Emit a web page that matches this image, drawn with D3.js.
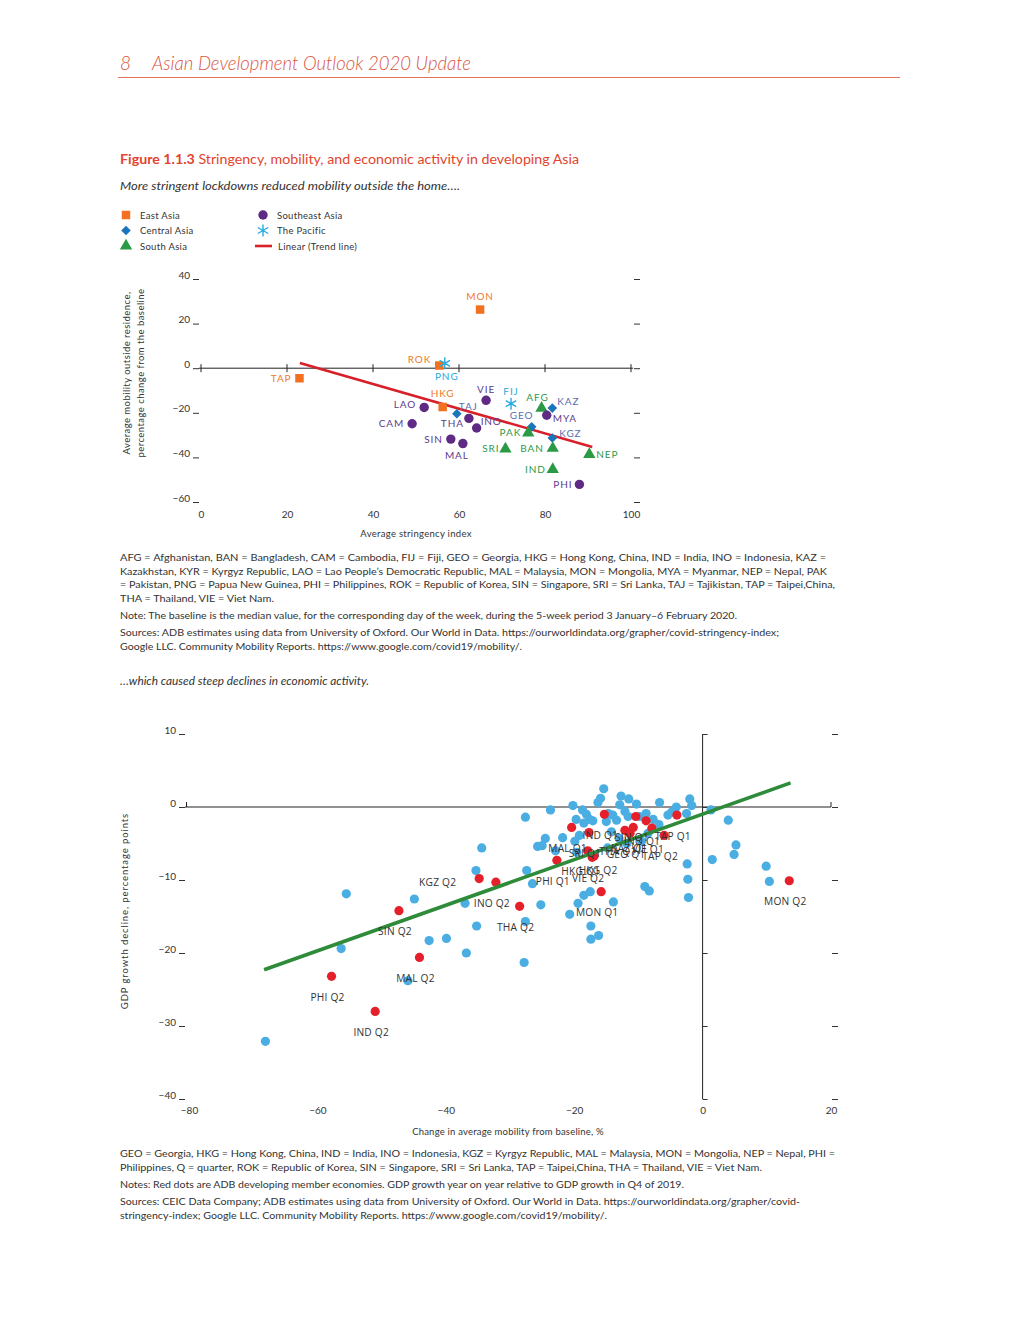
<!DOCTYPE html>
<html>
<head>
<meta charset="utf-8">
<script src="https://cdn.jsdelivr.net/npm/d3@7"></script>
<style>
  body { margin: 0; background: #fff; }
  svg { display: block; font-family: Lato, "Open Sans", sans-serif; }
  .tick text { font-family: Lato, sans-serif; font-size: 10px; fill: #333; }
  .tick line { stroke: #333; }
</style>
</head>
<body>
<script>
// ---- top chart: stringency vs mobility ----
var topCodes = ["MON", "ROK", "TAP", "HKG", "TAJ", "KAZ", "GEO", "KGZ", "AFG", "PAK", "SRI", "BAN", "NEP", "IND",
  "LAO", "CAM", "THA", "INO", "VIE", "SIN", "MAL", "MYA", "PHI", "PNG", "FIJ"];
var topRegion = ["East Asia", "East Asia", "East Asia", "East Asia",
  "Central Asia", "Central Asia", "Central Asia", "Central Asia",
  "South Asia", "South Asia", "South Asia", "South Asia", "South Asia", "South Asia",
  "Southeast Asia", "Southeast Asia", "Southeast Asia", "Southeast Asia", "Southeast Asia",
  "Southeast Asia", "Southeast Asia", "Southeast Asia", "Southeast Asia",
  "The Pacific", "The Pacific"];
var topStringency = [64.9, 55.4, 22.9, 56.2, 59.5, 81.7, 76.9, 81.7, 79.2, 76.1, 70.8, 81.8, 90.3, 81.8,
  51.9, 49.1, 62.3, 64.1, 66.3, 58.1, 60.9, 80.4, 88.0, 56.7, 72.1];
var topMobility = [26.3, 1.2, -4.5, -17.4, -20.4, -17.9, -26.3, -31.3, -17.9, -29.0, -36.2, -35.9, -38.7, -45.4,
  -17.6, -24.9, -22.5, -26.8, -14.4, -31.8, -33.8, -21.1, -52.1, 2.2, -15.9];
var topTrendX = [23, 91];
var topTrendY = [2.3, -35.3];
var topXTicks = [0, 20, 40, 60, 80, 100];
var topYTicks = [40, 20, 0, -20, -40, -60];

// ---- bottom chart: mobility vs GDP growth decline ----
var blueMob = [-68.1, -56.3, -55.5, -44.9, -45.9, -42.6, -39.9, -36.8, -37.0, -35.2, -35.3, -34.4, -27.8, -27.6,
  -27.4, -27.6, -26.5, -25.2, -25.7, -25.0, -24.5, -23.7, -21.8, -22.9, -20.7, -19.4, -18.5, -17.5, -17.4, -17.4,
  -16.2, -13.9, -9.0, -8.3, -2.4, -2.3, -2.2, 1.5, 4.0, 4.9, 5.2, 9.9, 10.4, 1.3, -2.0, -1.7,
  -15.4, -15.9, -16.3, -12.7, -11.5, -12.9, -10.3, -6.7, -4.1, -20.2, -18.7, -18.1, -17.6, -19.7, -17.1, -14.7,
  -14.0, -13.4, -12.1, -11.6, -9.8, -8.8, -7.7, -5.4, -2.5, -15.0, -4.8, -19.2, -18.5, -14.2, -13.0, -9.5, -8.5,
  -6.8, -11.8, -14.8, -19.9, -19.6];
var blueGdp = [-32.1, -19.4, -11.9, -12.6, -23.8, -18.3, -18.0, -20.0, -13.2, -16.3, -8.7, -5.6, -21.3, -15.7,
  -8.7, -1.4, -10.5, -13.4, -5.4, -5.3, -4.3, -0.4, -4.2, -6.0, -14.7, -13.2, -12.1, -11.6, -16.3, -18.1,
  -17.6, -13.0, -10.9, -11.5, -7.8, -9.9, -12.4, -7.2, -1.8, -6.5, -5.2, -8.1, -10.2, -0.4, 1.1, 0.2,
  2.5, 1.2, 0.6, 1.5, 1.1, 0.3, 0.4, 0.6, 0.0, 0.2, -0.4, -1.0, -1.7, -1.7, -1.9, -0.9,
  -1.1, -1.8, -0.6, -1.3, -1.3, -0.9, -1.7, -1.1, -0.9, -2.0, -0.7, -3.9, -2.2, -3.4, -4.3, -4.7, -3.6,
  -2.4, -5.0, -5.6, -4.7, -6.2];
var redLabel = ["IND Q1", "SIN Q1", "TAP Q1", "INO Q1", "MAL Q1", "SRI Q1", "THA Q1", "KAZ Q1", "VIE Q1", "GEO Q1",
  "TAP Q2", "HKG Q1", "HKG Q2", "VIE Q2", "PHI Q1", "MON Q1", "THA Q2", "INO Q2", "KGZ Q2", "SIN Q2", "MAL Q2",
  "PHI Q2", "IND Q2", "MON Q2"];
var redMob = [-15.3, -10.4, -4.0, -8.8, -20.4, -17.7, -12.1, -10.8, -7.9, -11.3, -6.0, -17.9, -16.9, -17.2,
  -22.7, -15.8, -28.5, -32.2, -34.8, -47.3, -44.1, -57.8, -51.0, 13.5];
var redGdp = [-1.0, -1.3, -1.1, -1.9, -2.8, -3.5, -3.2, -2.8, -2.9, -3.6, -3.9, -6.0, -6.7, -6.9,
  -7.3, -11.6, -13.6, -10.3, -9.8, -14.2, -20.6, -23.2, -28.0, -10.1];
var botTrendX = [-68.3, 13.7];
var botTrendY = [-22.3, 3.3];
var botXTicks = [-80, -60, -40, -20, 0, 20];
var botYTicks = [10, 0, -10, -20, -30, -40];

// ---- styles ----
var regionColor = {"East Asia": "#f37021", "Central Asia": "#1a75bb", "South Asia": "#2a9a47",
  "Southeast Asia": "#5e2a84", "The Pacific": "#27aae1"};
var labelColor = {"East Asia": "#f07a2a", "Central Asia": "#5a6eb0", "South Asia": "#2e9a48",
  "Southeast Asia": "#5c3a8c", "The Pacific": "#2aa8e0"};
// [anchor, dx, dy(baseline)] for top labels
var topLabelPos = {
  MON: ["middle", 0, -9.5], ROK: ["end", -8, -2.5], PNG: ["middle", 2, 16.5], TAP: ["end", -8, 3.5],
  HKG: ["middle", 0, -10.5], TAJ: ["start", 2, -3.5], LAO: ["end", -8, 0.5], CAM: ["end", -8, 3.5],
  THA: ["end", -5, 8.5], INO: ["start", 4, -2.5], VIE: ["middle", 0, -7.5], SIN: ["end", -8, 3.5],
  MAL: ["middle", -6, 15], FIJ: ["middle", 0, -8.5], AFG: ["middle", -4, -7.5], KAZ: ["start", 5, -3.5],
  MYA: ["start", 6, 6.5], GEO: ["middle", -10, -7.5], PAK: ["end", -7, 3.5], KGZ: ["start", 7, -0.5],
  SRI: ["end", -6, 3.5], BAN: ["end", -9, 3.5], NEP: ["start", 7, 3.5], IND: ["end", -7, 3.5], PHI: ["end", -7, 3.5]
};
var botLabelPos = {"KGZ Q2": ["end", -23, 7], "HKG Q2": ["middle", 4, 18], "HKG Q1": ["middle", -7, 24],
  "THA Q1": ["middle", -7, 25]};

var svg = d3.select("body").append("svg").attr("width", 1020).attr("height", 1320);
svg.append("rect").attr("width", 1020).attr("height", 1320).attr("fill", "#fff");

// header
svg.append("text").attr("x", 120).attr("y", 70).attr("font-size", 19).attr("font-style", "italic")
  .attr("font-weight", 300).attr("fill", "#d8553f").text("8");
svg.append("text").attr("x", 152).attr("y", 70).attr("font-size", 19).attr("font-style", "italic")
  .attr("font-weight", 300).attr("fill", "#d8553f").attr("textLength", 319).attr("lengthAdjust", "spacingAndGlyphs")
  .text("Asian Development Outlook 2020 Update");
svg.append("line").attr("x1", 118).attr("x2", 900).attr("y1", 77.5).attr("y2", 77.5)
  .attr("stroke", "#e0745c").attr("stroke-width", 1);

var title = svg.append("text").attr("x", 120).attr("y", 164).attr("font-size", 13.5).attr("fill", "#e2442e")
  .attr("textLength", 459).attr("lengthAdjust", "spacingAndGlyphs");
title.append("tspan").attr("font-weight", 700).text("Figure 1.1.3");
title.append("tspan").text("  Stringency, mobility, and economic activity in developing Asia");

svg.append("text").attr("x", 120).attr("y", 190).attr("font-size", 11).attr("font-style", "italic")
  .attr("fill", "#333").attr("textLength", 340).attr("lengthAdjust", "spacingAndGlyphs")
  .text("More stringent lockdowns reduced mobility outside the home….");

// marker drawing
function asterisk(r) {
  var a = r * 0.87, b = r * 0.5;
  return "M0," + (-r) + "L0," + r + "M" + (-a) + "," + (-b) + "L" + a + "," + b + "M" + (-a) + "," + b + "L" + a + "," + (-b);
}
function drawMarker(g, region, x, y) {
  var c = regionColor[region];
  if (region === "East Asia") {
    g.append("path").attr("d", d3.symbol(d3.symbolSquare, 72)()).attr("transform", "translate(" + x + "," + y + ")").attr("fill", c);
  } else if (region === "Central Asia") {
    g.append("path").attr("d", d3.symbol(d3.symbolSquare, 46)())
      .attr("transform", "translate(" + x + "," + y + ") rotate(45)").attr("fill", c);
  } else if (region === "South Asia") {
    g.append("path").attr("d", d3.symbol(d3.symbolTriangle, 66)()).attr("transform", "translate(" + x + "," + y + ")").attr("fill", c);
  } else if (region === "Southeast Asia") {
    g.append("circle").attr("cx", x).attr("cy", y).attr("r", 4.7).attr("fill", c);
  } else {
    g.append("path").attr("d", asterisk(6)).attr("transform", "translate(" + x + "," + y + ")")
      .attr("stroke", c).attr("stroke-width", 1.4).attr("fill", "none");
  }
}

// legend
var legend = svg.append("g").attr("font-size", 9.5).attr("fill", "#333");
var legendItems = [["East Asia", 126, 215], ["Central Asia", 126, 230.5], ["South Asia", 126, 246],
  ["Southeast Asia", 263, 215], ["The Pacific", 263, 230.5]];
legendItems.forEach(function (d) {
  drawMarker(legend, d[0], d[1], d[2]);
  legend.append("text").attr("x", d[1] + 14).attr("y", d[2] + 3.5).attr("letter-spacing", 0.3).text(d[0]);
});
legend.append("line").attr("x1", 255).attr("x2", 272).attr("y1", 246).attr("y2", 246)
  .attr("stroke", "#d7202a").attr("stroke-width", 2.6);
legend.append("text").attr("x", 278).attr("y", 249.5).attr("letter-spacing", 0.3).text("Linear (Trend line)");

// ---------------- top chart ----------------
var tx = d3.scaleLinear().domain([0, 100]).range([201, 631]);
var ty = d3.scaleLinear().domain([-60, 40]).range([502, 279]);
var topG = svg.append("g");

var tLeft = topG.append("g").attr("transform", "translate(199,0)")
  .call(d3.axisLeft(ty).tickValues(topYTicks).tickSize(6).tickPadding(3));
tLeft.select(".domain").remove();
tLeft.selectAll("text").attr("dy", "-0.1em");
var tRight = topG.append("g").attr("transform", "translate(634,0)")
  .call(d3.axisRight(ty).tickValues(topYTicks).tickSize(6).tickFormat(""));
tRight.select(".domain").remove();
var tBottom = topG.append("g").attr("transform", "translate(0,503)")
  .call(d3.axisBottom(tx).tickValues(topXTicks).tickSize(0).tickPadding(8));
tBottom.select(".domain").remove();

// zero line with crossing ticks
topG.append("line").attr("x1", tx(0) - 2).attr("x2", tx(100) + 2).attr("y1", ty(0)).attr("y2", ty(0))
  .attr("stroke", "#222").attr("stroke-width", 1);
topG.selectAll(".zt").data(topXTicks).enter().append("line")
  .attr("x1", function (d) { return tx(d); }).attr("x2", function (d) { return tx(d); })
  .attr("y1", ty(0) - 4).attr("y2", ty(0) + 4).attr("stroke", "#222");

topG.append("text").attr("x", 416).attr("y", 537).attr("text-anchor", "middle").attr("font-size", 9.5)
  .attr("fill", "#333").attr("letter-spacing", 0.3).text("Average stringency index");
topG.append("text").attr("transform", "translate(130,373) rotate(-90)").attr("text-anchor", "middle")
  .attr("font-size", 9.5).attr("fill", "#333").attr("letter-spacing", 0.45).text("Average mobility outside residence,");
topG.append("text").attr("transform", "translate(144,373) rotate(-90)").attr("text-anchor", "middle")
  .attr("font-size", 9.5).attr("fill", "#333").attr("letter-spacing", 0.45).text("percentage change from the baseline");

// trend line
topG.append("line").attr("x1", tx(topTrendX[0])).attr("y1", ty(topTrendY[0]))
  .attr("x2", tx(topTrendX[1])).attr("y2", ty(topTrendY[1]))
  .attr("stroke", "#d7202a").attr("stroke-width", 2.6);

// points and labels
topCodes.forEach(function (code, i) {
  drawMarker(topG, topRegion[i], tx(topStringency[i]), ty(topMobility[i]));
});
topCodes.forEach(function (code, i) {
  var x = tx(topStringency[i]), y = ty(topMobility[i]);
  var p = topLabelPos[code];
  topG.append("text").attr("x", x + p[1]).attr("y", y + p[2]).attr("text-anchor", p[0])
    .attr("font-size", 10).attr("letter-spacing", 0.9).attr("fill", labelColor[topRegion[i]]).text(code);
});

// footnotes top
var noteStyle = function (sel) { return sel.attr("font-size", 9.6).attr("fill", "#333").attr("lengthAdjust", "spacingAndGlyphs"); };
var notesTop = [
  ["AFG = Afghanistan, BAN = Bangladesh, CAM = Cambodia, FIJ = Fiji, GEO = Georgia, HKG = Hong Kong, China, IND = India, INO = Indonesia, KAZ =", 561, 706],
  ["Kazakhstan, KYR = Kyrgyz Republic, LAO = Lao People’s Democratic Republic, MAL = Malaysia, MON = Mongolia, MYA = Myanmar, NEP = Nepal, PAK", 575, 707],
  ["= Pakistan, PNG = Papua New Guinea, PHI = Philippines, ROK = Republic of Korea, SIN = Singapore, SRI = Sri Lanka, TAJ = Tajikistan, TAP = Taipei,China,", 588, 715],
  ["THA = Thailand, VIE = Viet Nam.", 602, 154],
  ["Note: The baseline is the median value, for the corresponding day of the week, during the 5-week period 3 January–6 February 2020.", 619, 617],
  ["Sources: ADB estimates using data from University of Oxford. Our World in Data. https://ourworldindata.org/grapher/covid-stringency-index;", 636, 659],
  ["Google LLC. Community Mobility Reports. https://www.google.com/covid19/mobility/.", 650, 402]
];
notesTop.forEach(function (n) {
  noteStyle(svg.append("text").attr("x", 120).attr("y", n[1]).attr("textLength", n[2])).text(n[0]);
});
svg.append("text").attr("x", 120).attr("y", 685).attr("font-size", 10.5).attr("font-style", "italic")
  .attr("fill", "#333").attr("textLength", 249).attr("lengthAdjust", "spacingAndGlyphs")
  .text("…which caused steep declines in economic activity.");

// ---------------- bottom chart ----------------
var bx = d3.scaleLinear().domain([-80, 20]).range([189, 831]);
var by = d3.scaleLinear().domain([-40, 10]).range([1099, 734]);
var bot = svg.append("g");

var bLeft = bot.append("g").attr("transform", "translate(185,0)")
  .call(d3.axisLeft(by).tickValues(botYTicks).tickSize(6).tickPadding(3));
bLeft.select(".domain").remove();
bLeft.selectAll("text").attr("dy", "-0.1em");
var bRight = bot.append("g").attr("transform", "translate(832,0)")
  .call(d3.axisRight(by).tickValues(botYTicks).tickSize(6).tickFormat(""));
bRight.select(".domain").remove();
var bBottom = bot.append("g").attr("transform", "translate(0,1101)")
  .call(d3.axisBottom(bx).tickValues(botXTicks).tickSize(0).tickPadding(6));
bBottom.select(".domain").remove();

// x axis on zero, y axis on zero
bot.append("line").attr("x1", 185).attr("x2", bx(20)).attr("y1", by(0)).attr("y2", by(0))
  .attr("stroke", "#222");
bot.append("line").attr("x1", 186.5).attr("x2", 186.5).attr("y1", by(0) - 5).attr("y2", by(0)).attr("stroke", "#222");
bot.append("line").attr("x1", bx(20)).attr("x2", bx(20)).attr("y1", by(0) - 5).attr("y2", by(0)).attr("stroke", "#222");
var bMid = bot.append("g").attr("transform", "translate(" + bx(0) + ",0)")
  .call(d3.axisRight(by).tickValues(botYTicks).tickSize(5).tickFormat(""));
bMid.select(".domain").attr("stroke", "#222").attr("d", "M0," + by(10) + "V" + by(-40));

bot.append("text").attr("x", 508).attr("y", 1135).attr("text-anchor", "middle").attr("font-size", 9.5)
  .attr("fill", "#333").attr("letter-spacing", 0.2).text("Change in average mobility from baseline, %");
bot.append("text").attr("transform", "translate(128,911) rotate(-90)").attr("text-anchor", "middle")
  .attr("font-size", 9.5).attr("fill", "#333").attr("letter-spacing", 0.9).text("GDP growth decline, percentage points");

// points
bot.selectAll(".blue").data(d3.range(blueMob.length)).enter().append("circle")
  .attr("cx", function (i) { return bx(blueMob[i]); })
  .attr("cy", function (i) { return by(blueGdp[i]); })
  .attr("r", 4.6).attr("fill", "#4aaee3");
bot.selectAll(".red").data(d3.range(redMob.length)).enter().append("circle")
  .attr("cx", function (i) { return bx(redMob[i]); })
  .attr("cy", function (i) { return by(redGdp[i]); })
  .attr("r", 4.6).attr("fill", "#e5202a");

// trend line
bot.append("line").attr("x1", bx(botTrendX[0])).attr("y1", by(botTrendY[0]))
  .attr("x2", bx(botTrendX[1])).attr("y2", by(botTrendY[1]))
  .attr("stroke", "#2e8b3a").attr("stroke-width", 3.6);

// labels
redLabel.forEach(function (lab, i) {
  var p = botLabelPos[lab] || ["middle", -4, 24.5];
  bot.append("text").attr("x", bx(redMob[i]) + p[1]).attr("y", by(redGdp[i]) + p[2])
    .attr("text-anchor", p[0]).attr("font-size", 10.2).attr("letter-spacing", 0.2)
    .attr("font-family", "'Open Sans', sans-serif").attr("fill", "#333").text(lab);
});

// footnotes bottom
var notesBot = [
  ["GEO = Georgia, HKG = Hong Kong, China, IND = India, INO = Indonesia, KGZ = Kyrgyz Republic, MAL = Malaysia, MON = Mongolia, NEP = Nepal, PHI =", 1157, 715],
  ["Philippines, Q = quarter, ROK = Republic of Korea, SIN = Singapore, SRI = Sri Lanka, TAP = Taipei,China, THA = Thailand, VIE = Viet Nam.", 1171, 642],
  ["Notes: Red dots are ADB developing member economies. GDP growth year on year relative to GDP growth in Q4 of 2019.", 1188, 564],
  ["Sources: CEIC Data Company; ADB estimates using data from University of Oxford. Our World in Data. https://ourworldindata.org/grapher/covid-", 1205, 680],
  ["stringency-index; Google LLC. Community Mobility Reports. https://www.google.com/covid19/mobility/.", 1219, 487]
];
notesBot.forEach(function (n) {
  noteStyle(svg.append("text").attr("x", 120).attr("y", n[1]).attr("textLength", n[2])).text(n[0]);
});
</script>
</body>
</html>
